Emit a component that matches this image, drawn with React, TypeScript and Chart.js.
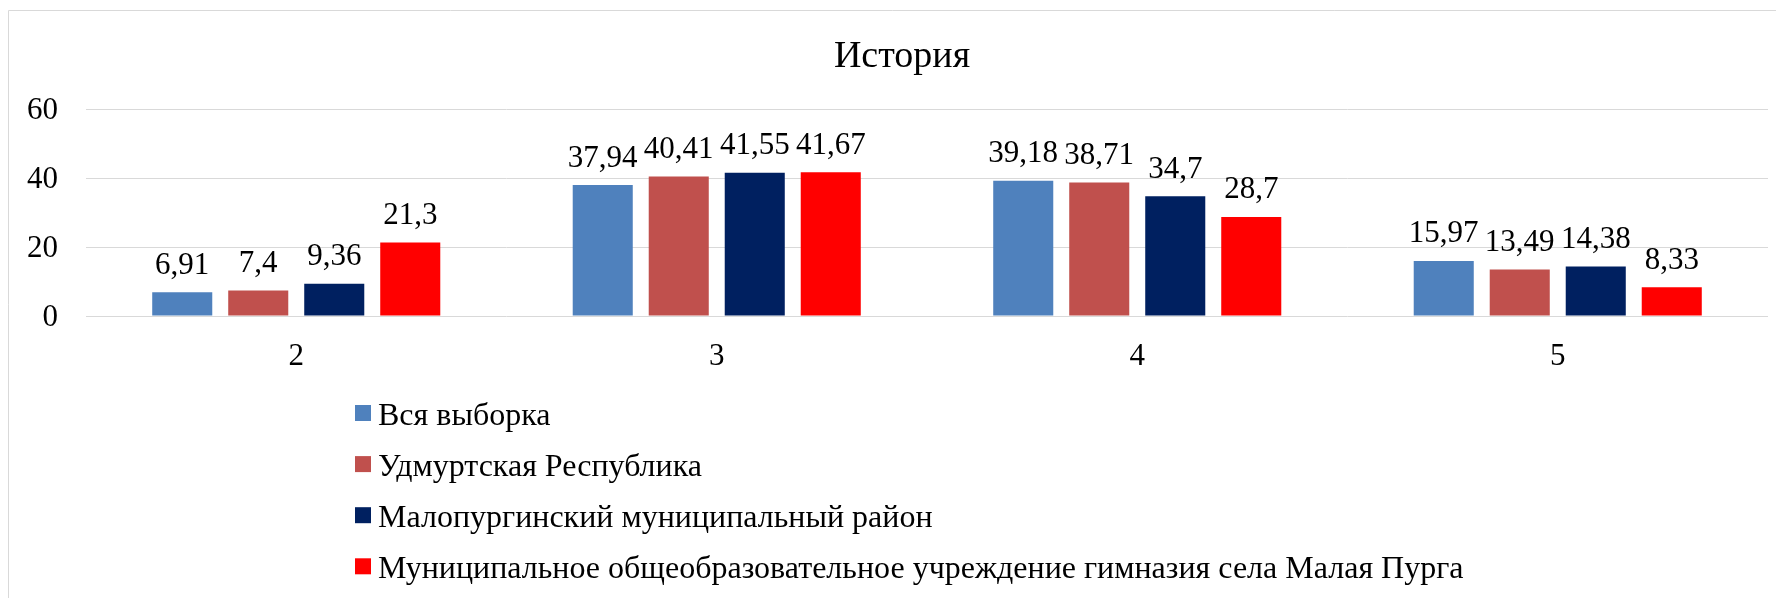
import React, { useEffect, useRef } from "react";
import { Chart, registerables } from "chart.js";

Chart.register(...registerables);

const chartTitle = "История";
const categories = ["2", "3", "4", "5"];
const seriesNames = [
  "Вся выборка",
  "Удмуртская Республика",
  "Малопургинский муниципальный район",
  "Муниципальное общеобразовательное учреждение гимназия села Малая Пурга",
];
const sampleValues = [6.91, 37.94, 39.18, 15.97];
const republicValues = [7.4, 40.41, 38.71, 13.49];
const districtValues = [9.36, 41.55, 34.7, 14.38];
const gymnasiumValues = [21.3, 41.67, 28.7, 8.33];
const seriesColors = ["#4F81BD", "#C0504D", "#002060", "#FF0000"];
const yMin = 0;
const yMax = 60;
const yStep = 20;

const FONT = '"Liberation Serif", "Times New Roman", serif';

const fmt = (v: number) => String(v).replace(".", ",");

const decorPlugin = {
  id: "decor",
  beforeDraw(chart: any) {
    const ctx = chart.ctx;
    ctx.save();
    ctx.strokeStyle = "#d9d9d9";
    ctx.lineWidth = 1;
    ctx.beginPath();
    ctx.moveTo(8.5, 700);
    ctx.lineTo(8.5, 10.5);
    ctx.lineTo(1900, 10.5);
    ctx.stroke();
    ctx.restore();
  },
  afterDatasetsDraw(chart: any) {
    const ctx = chart.ctx;
    ctx.save();
    ctx.fillStyle = "#000";
    ctx.font = `31px ${FONT}`;
    ctx.textAlign = "center";
    ctx.textBaseline = "alphabetic";
    chart.data.datasets.forEach((ds: any, di: number) => {
      const meta = chart.getDatasetMeta(di);
      meta.data.forEach((el: any, i: number) => {
        ctx.fillText(fmt(ds.data[i]), el.x, el.y - 18.5);
      });
    });
    ctx.restore();
  },
  afterDraw(chart: any) {
    const ctx = chart.ctx;
    ctx.save();
    ctx.fillStyle = "#000";
    ctx.font = `38px ${FONT}`;
    ctx.textAlign = "center";
    ctx.textBaseline = "alphabetic";
    ctx.fillText(chartTitle, 902, 66.7);
    ctx.font = `32px ${FONT}`;
    ctx.textAlign = "left";
    chart.data.datasets.forEach((ds: any, di: number) => {
      const cy = 413 + di * 51.1;
      ctx.fillStyle = ds.backgroundColor;
      ctx.fillRect(355, cy - 8, 16, 16);
      ctx.fillStyle = "#000";
      ctx.fillText(ds.label, 378, cy + 12);
    });
    ctx.restore();
  },
};

export default function App() {
  const ref = useRef<HTMLCanvasElement | null>(null);
  useEffect(() => {
    if (!ref.current) return;
    const valueSets = [sampleValues, republicValues, districtValues, gymnasiumValues];
    const chart = new Chart(ref.current, {
      type: "bar",
      data: {
        labels: categories,
        datasets: valueSets.map((vals, i) => ({
          label: seriesNames[i],
          data: vals,
          backgroundColor: seriesColors[i],
          borderWidth: 0,
          categoryPercentage: 0.723,
          barPercentage: 0.79,
        })),
      },
      options: {
        animation: false,
        responsive: true,
        maintainAspectRatio: false,
        layout: { padding: { top: 109, right: 8, bottom: 222, left: 0 } },
        plugins: {
          legend: { display: false },
          title: { display: false },
          tooltip: { enabled: false },
        },
        scales: {
          x: {
            grid: { display: false },
            border: { display: false },
            ticks: { color: "#000", font: { family: FONT, size: 31 }, padding: 14 },
            afterFit: (scale: any) => {
              scale.height = 60;
            },
          },
          y: {
            min: yMin,
            max: yMax,
            ticks: {
              stepSize: yStep,
              color: "#000",
              font: { family: FONT, size: 31 },
              padding: 28,
              labelOffset: 2,
            },
            grid: { color: "#d9d9d9", lineWidth: 1, drawTicks: false },
            border: { display: false },
            afterFit: (scale: any) => {
              scale.width = 86;
            },
          },
        },
      },
      plugins: [decorPlugin],
    });
    return () => chart.destroy();
  }, []);
  return (
    <div style={{ position: "absolute", left: 0, top: 0, width: 1776, height: 598, background: "#fff" }}>
      <canvas ref={ref} />
    </div>
  );
}
